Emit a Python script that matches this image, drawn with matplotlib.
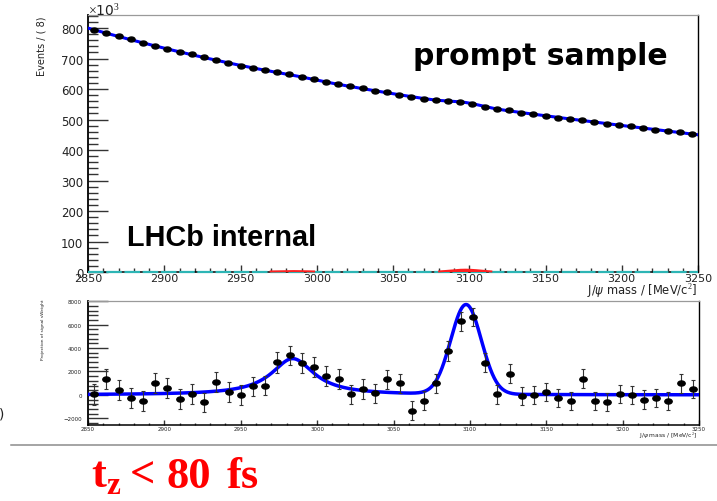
import numpy as np
import matplotlib
matplotlib.use("Agg")
import matplotlib.pyplot as plt
from matplotlib.path import Path
from matplotlib.ticker import MultipleLocator

plt.rcParams["mathtext.fontset"] = "custom"
plt.rcParams["mathtext.rm"] = "Liberation Serif"
plt.rcParams["mathtext.bf"] = "Liberation Serif:bold"

# ---- data -------------------------------------------------------------
bin_width = 8
mass_lo, mass_hi = 2850, 3250
bin_centers = np.arange(mass_lo + bin_width / 2, mass_hi, bin_width)

# events per bin (x10^3), prompt sample
events_k = [794.8, 785.5, 774.0, 762.7, 752.0, 742.9, 732.3, 722.3, 713.6, 703.8,
            696.3, 686.3, 677.0, 669.9, 662.1, 656.3, 649.0, 640.5, 632.4, 624.3,
            617.1, 608.7, 602.1, 594.7, 588.8, 582.0, 573.8, 568.7, 564.3, 561.1,
            557.7, 552.3, 542.8, 534.5, 530.6, 523.1, 517.6, 512.2, 506.7, 501.6,
            498.5, 491.7, 486.6, 482.3, 477.3, 471.9, 467.1, 461.9, 458.4, 453.0]

# background shape of the total fit (x10^3)
bkg_mass = [2850, 2900, 2950, 3000, 3050, 3100, 3150, 3200, 3250]
bkg_level = [800, 734, 677, 628, 584, 547, 512, 481, 450]

# projection of signal sWeights
sweights = [50, 1370, 430, -260, -540, 1030, 600, -340, 60, -630,
            1090, 230, 0, 720, 800, 2770, 3370, 2720, 2370, 1600,
            1370, 60, 510, 140, 1320, 1000, -1340, -490, 1000, 3720,
            6290, 6660, 2750, 60, 1800, -90, 0, 230, -260, -540,
            1370, -540, -630, 60, 0, -400, -260, -540, 1000, 510]
sweight_err = [900, 880, 860, 850, 850, 860, 850, 840, 840, 830,
               860, 840, 830, 840, 840, 860, 830, 840, 850, 840,
               840, 820, 820, 810, 820, 820, 800, 800, 820, 850,
               800, 780, 820, 800, 820, 790, 790, 790, 790, 790,
               800, 780, 780, 780, 780, 780, 780, 780, 800, 790]

# fitted signal components
etac_mass, etac_width, etac_peak = 2984.0, 34.0, 3100.0
jpsi_mass, jpsi_sigma, jpsi_peak = 3097.5, 10.0, 7650.0

m = np.linspace(mass_lo, mass_hi, 1601)
etac_curve = etac_peak / (1.0 + ((m - etac_mass) / (etac_width / 2)) ** 2)
jpsi_curve = jpsi_peak * np.exp(-0.5 * ((m - jpsi_mass) / jpsi_sigma) ** 2)
signal_curve = etac_curve + jpsi_curve
bkg_poly = np.polyfit(bkg_mass, bkg_level, 3)
total_curve = np.polyval(bkg_poly, m) + signal_curve / 1000.0

# ---- styling helpers ---------------------------------------------------
W, H = 717, 502
fig = plt.figure(figsize=(W / 100, H / 100), dpi=100)

circ = Path.unit_circle()
ellipse = Path(circ.vertices * np.array([1.45, 1.0]), circ.codes)
tick_col = "#222222"


def frame(ax):
    ax.spines["left"].set_linewidth(1.3)
    ax.spines["bottom"].set_linewidth(1.1)
    ax.spines["top"].set_color("#9a9a9a")
    ax.spines["top"].set_linewidth(0.9)
    ax.spines["right"].set_linewidth(1.0)
    ax.tick_params(which="both", direction="in", top=False, right=False,
                   colors="#333333", labelcolor=tick_col, width=1.0)


# ---- top panel: mass fit ----------------------------------------------
ax1 = fig.add_axes([88 / W, 1 - 273 / H, 610 / W, 257 / H])
frame(ax1)
ax1.set_xlim(mass_lo, mass_hi)
ax1.set_ylim(0, 843)
ax1.plot([mass_lo, mass_hi], [0, 0], color="#2db5b5", lw=1.6,
         dashes=(7, 1.2), zorder=4, clip_on=False)
shown = signal_curve > 1800
ax1.fill_between(m, 0, signal_curve / 1000.0, where=shown,
                 color="#ff2020", lw=0, zorder=5, clip_on=False)
ax1.plot(m, np.where(shown, signal_curve / 1000.0, np.nan),
         color="#ff2020", lw=1.4, zorder=5, clip_on=False)
ax1.plot(m, total_curve, color="#0000ff", lw=2.2, zorder=3)
ax1.plot(bin_centers, events_k, ls="none", marker=ellipse, ms=5.2,
         color="black", zorder=4)

ax1.xaxis.set_major_locator(MultipleLocator(50))
ax1.xaxis.set_minor_locator(MultipleLocator(10))
ax1.yaxis.set_major_locator(MultipleLocator(100))
ax1.yaxis.set_minor_locator(MultipleLocator(20))
ax1.tick_params(axis="x", which="major", length=5.4, pad=0.8, labelsize=8)
ax1.tick_params(axis="x", which="minor", length=2.6)
ax1.tick_params(axis="y", which="major", length=14.4, pad=3.4, labelsize=8.5)
ax1.tick_params(axis="y", which="minor", length=7.2)
ax1.set_yticks(range(0, 801, 100))

fig.text(697 / W, 1 - 292 / H, r"J/$\psi$ mass / [MeV/c$^2$]", ha="right",
         va="center", fontsize=8.3, color=tick_col)
fig.text(42 / W, 1 - 46 / H, "Events / ( 8)", rotation=90, ha="center",
         va="center", fontsize=7, color=tick_col)
fig.text(88 / W, 1 - 15.5 / H, r"$\times$10$^{3}$", ha="left", va="baseline",
         fontsize=10, color=tick_col)

fig.text(413 / W, 1 - 65 / H, "prompt sample", ha="left", va="baseline",
         fontsize=21.5, fontweight="bold", family="DejaVu Sans", color="black")
fig.text(127 / W, 1 - 246.5 / H, "LHCb internal", ha="left", va="baseline",
         fontsize=20.8, fontweight="bold", family="Liberation Sans",
         color="black")

# ---- bottom panel: sWeighted projection --------------------------------
ax2 = fig.add_axes([88 / W, 1 - 426 / H, 611 / W, 124 / H])
frame(ax2)
ax2.set_xlim(mass_lo, mass_hi)
ax2.set_ylim(-2570, 8020)
ax2.plot(m, signal_curve, color="#0000ff", lw=2.5, zorder=3)
ax2.errorbar(bin_centers, sweights, yerr=sweight_err, ls="none",
             marker=ellipse, ms=5.3, color="black", ecolor="#333333",
             elinewidth=0.8, capsize=1.6, capthick=0.8, zorder=4)
ax2.xaxis.set_major_locator(MultipleLocator(50))
ax2.xaxis.set_minor_locator(MultipleLocator(10))
ax2.yaxis.set_major_locator(MultipleLocator(2000))
ax2.yaxis.set_minor_locator(MultipleLocator(400))
ax2.tick_params(axis="x", which="major", length=3.6, pad=0.6, labelsize=4)
ax2.tick_params(axis="x", which="minor", length=1.8)
ax2.tick_params(axis="y", which="major", length=14.4, pad=4.5, labelsize=4)
ax2.tick_params(axis="y", which="minor", length=7.2)
fig.text(697 / W, 1 - 436 / H, r"J/$\psi$ mass / [MeV/c$^2$]", ha="right",
         va="center", fontsize=4.3, color=tick_col)
fig.text(43 / W, 1 - 330 / H, "Projection of signal sWeight", rotation=90,
         ha="center", va="center", fontsize=3.2, color=tick_col)

# ---- slide decorations -------------------------------------------------
fig.add_artist(plt.Line2D([11 / W, 1.0], [1 - 446 / H, 1 - 446 / H],
                          color="#8c8c8c", lw=1.1))
fig.text(4 / W, 1 - 414 / H, ")", ha="right", va="center", fontsize=10,
         color="#222222")

# lifetime cut caption, set word by word with wide slide spacing
cut_words = [r"t$_{\mathbf{z}}$", "<", "80", "fs"]
cut_x = [91, 130, 166, 227]
for word, x in zip(cut_words, cut_x):
    fig.text(x / W, 1 - 488 / H, word, ha="left", va="baseline",
             fontsize=32, fontweight="bold", family="Liberation Serif",
             color="#ff0000")

fig.savefig("out.png", dpi=100)
